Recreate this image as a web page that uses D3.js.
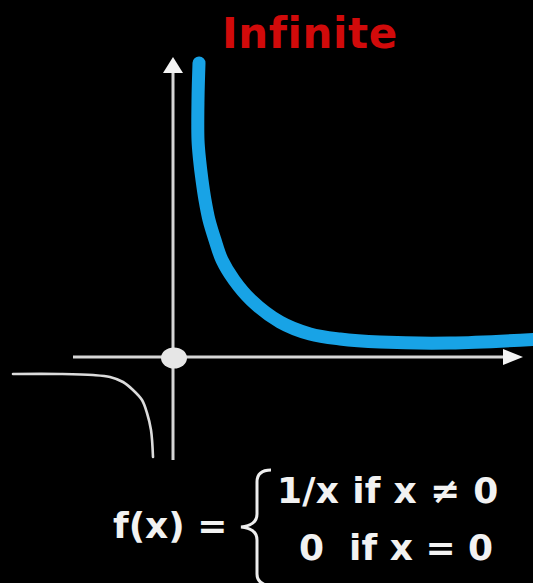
<!DOCTYPE html>
<html>
<head>
<meta charset="utf-8">
<script src="https://cdn.jsdelivr.net/npm/d3@7/dist/d3.min.js"></script>
<style>
  html, body { margin: 0; padding: 0; background: #000; }
  svg { display: block; }
</style>
</head>
<body>
<script>
// Branch of 1/x for x > 0 (highlighted), as [x, y] pairs
const positiveBranch = [
  [1.3, 14.7], [1.25, 12.85], [1.25, 10.85], [1.33, 9.85], [1.45, 8.85],
  [1.6, 7.85], [1.8, 6.85], [2.1, 5.85], [2.45, 4.85], [3.05, 3.85],
  [3.9, 2.85], [5.35, 1.75], [6.85, 1.15], [8.35, 0.9], [10.35, 0.75],
  [13.85, 0.7], [18.35, 0.9]
];
// Branch of 1/x for x < 0
const negativeBranch = [
  [-8, -0.85], [-5.65, -0.85], [-4.0, -0.9], [-3.15, -1.0], [-2.5, -1.25],
  [-2.0, -1.65], [-1.55, -2.15], [-1.3, -2.8], [-1.1, -3.65], [-1.0, -5.0]
];
// Value defined at the origin
const originPoint = [0, 0];
// Axis extents
const xAxisExtent = [-5, 17.5];
const yAxisExtent = [-5.15, 15];

const titleText = "Infinite";
const formulaLeft = "f(x) =";
const formulaCases = ["1/x if x \u2260 0", "0\u00a0 if x = 0"];

const W = 533, H = 583;
const svg = d3.select("body").append("svg")
  .attr("width", W).attr("height", H)
  .style("background", "#000");

const x = d3.scaleLinear().domain([-8, 18.5]).range([13, 543]);
const y = d3.scaleLinear().domain([-5.15, 15]).range([460, 57]);

const axisColor = "#d6d6d6";

// Axes
svg.append("line")
  .attr("x1", x(xAxisExtent[0])).attr("x2", x(xAxisExtent[1]) - 14)
  .attr("y1", y(0)).attr("y2", y(0))
  .attr("stroke", axisColor).attr("stroke-width", 3);
svg.append("line")
  .attr("x1", x(0)).attr("x2", x(0))
  .attr("y1", y(yAxisExtent[0])).attr("y2", y(yAxisExtent[1]) + 10)
  .attr("stroke", axisColor).attr("stroke-width", 3);

// Arrow heads
const xt = [x(xAxisExtent[1]), y(0)];
svg.append("path")
  .attr("d", `M${xt[0]},${xt[1]} L${xt[0] - 20},${xt[1] - 8} L${xt[0] - 20},${xt[1] + 8} Z`)
  .attr("fill", "#f4f4f4");
const yt = [x(0), y(yAxisExtent[1])];
svg.append("path")
  .attr("d", `M${yt[0]},${yt[1]} L${yt[0] - 10},${yt[1] + 16} L${yt[0] + 10},${yt[1] + 16} Z`)
  .attr("fill", "#f4f4f4");

const line = d3.line()
  .x(d => x(d[0])).y(d => y(d[1]))
  .curve(d3.curveCatmullRom.alpha(0.5));

// Negative branch
svg.append("path")
  .datum(negativeBranch)
  .attr("d", line)
  .attr("fill", "none")
  .attr("stroke", "#dcdcdc")
  .attr("stroke-width", 2.6)
  .attr("stroke-linecap", "round");

// Positive branch
svg.append("path")
  .datum(positiveBranch)
  .attr("d", line)
  .attr("fill", "none")
  .attr("stroke", "#18a3e6")
  .attr("stroke-width", 13)
  .attr("stroke-linecap", "round");

// Origin point
svg.append("ellipse")
  .attr("cx", x(originPoint[0]) + 1).attr("cy", y(originPoint[1]) + 1)
  .attr("rx", 13).attr("ry", 10.5)
  .attr("fill", "#e6e6e6");

// Title
svg.append("text")
  .attr("x", 222).attr("y", 48)
  .attr("font-family", "DejaVu Sans")
  .attr("font-weight", "bold")
  .attr("font-size", 42)
  .attr("letter-spacing", 0.6)
  .attr("fill", "#d10a0a")
  .text(titleText);

// Piecewise definition
const fFont = { family: "DejaVu Sans", size: 36 };
svg.append("text")
  .attr("x", 113).attr("y", 538)
  .attr("font-family", fFont.family).attr("font-weight", "bold")
  .attr("font-size", fFont.size).attr("fill", "#f2f2f2")
  .text(formulaLeft);

svg.append("path")
  .attr("d", "M271,470 C262,470 257,474 257,482 L257,514 C257,522 251,526 241,527 C251,528 257,532 257,540 L257,574 C257,581 262,585 271,586")
  .attr("fill", "none")
  .attr("stroke", "#eeeeee")
  .attr("stroke-width", 3);

svg.append("text")
  .attr("x", 277).attr("y", 503)
  .attr("font-family", fFont.family).attr("font-weight", "bold")
  .attr("font-size", fFont.size).attr("fill", "#f2f2f2")
  .attr("letter-spacing", 0.3)
  .text(formulaCases[0]);
svg.append("text")
  .attr("x", 299).attr("y", 560)
  .attr("font-family", fFont.family).attr("font-weight", "bold")
  .attr("font-size", fFont.size).attr("fill", "#f2f2f2")
  .text(formulaCases[1]);
</script>
</body>
</html>
